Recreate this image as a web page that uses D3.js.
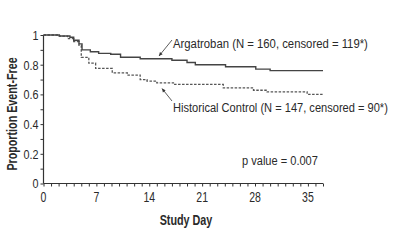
<!DOCTYPE html>
<html><head><meta charset="utf-8">
<script src="https://cdn.jsdelivr.net/npm/d3@7"></script>
<style>
html,body{margin:0;padding:0;background:#fff;}
svg text{font-family:"Liberation Sans",Arial,sans-serif;fill:#2a2a2a;}
</style></head>
<body><svg id="c" width="400" height="241"></svg>
<script>
const argDays = [0, 2.1, 3.5, 4.0, 4.7, 5.1, 6.2, 7.3, 8.9, 10.2, 12.8, 17.0, 19.0, 20.1, 24.1, 28.1, 30.0, 37];
const argVals = [1, 0.993, 0.985, 0.965, 0.94, 0.90, 0.887, 0.876, 0.87, 0.85, 0.84, 0.83, 0.815, 0.80, 0.786, 0.77, 0.76, 0.76];
const hisDays = [0, 2.1, 3.2, 4.0, 4.7, 5.0, 6.0, 6.9, 9.1, 11.1, 12.8, 13.7, 15.0, 17.2, 23.8, 27.8, 29.6, 34.9, 37];
const hisVals = [1, 0.993, 0.975, 0.955, 0.93, 0.85, 0.81, 0.775, 0.745, 0.73, 0.70, 0.69, 0.678, 0.667, 0.644, 0.628, 0.617, 0.60, 0.60];
const xTicks = [0, 7, 14, 21, 28, 35];
const yTicks = [0, 0.2, 0.4, 0.6, 0.8, 1];
const argLabel = "Argatroban (N = 160, censored = 119*)";
const hisLabel = "Historical Control (N = 147, censored = 90*)";
const pLabel = "p value = 0.007";
const xTitle = "Study Day";
const yTitle = "Proportion Event-Free";

const svg = d3.select("#c");
const x = d3.scaleLinear().domain([0, 37]).range([43.5, 323]);
const y = d3.scaleLinear().domain([0, 1]).range([183.5, 35]);
const ink = "#333";

const yAxis = svg.append("g").attr("transform", `translate(${x(0)},0)`)
  .call(d3.axisLeft(y).tickValues(d3.range(0, 1.0001, 0.1)).tickSize(3).tickFormat(""));
const xAxis = svg.append("g").attr("transform", `translate(0,${y(0)})`)
  .call(d3.axisBottom(x).tickValues(d3.range(0, 38, 1)).tickSize(3).tickFormat(""));
svg.selectAll(".domain").attr("stroke", ink).attr("stroke-width", 1.2);
svg.selectAll(".tick line").attr("stroke", ink);
yAxis.select(".domain").attr("d", `M0,${y(1)}V${y(0)}`);
xAxis.select(".domain").attr("d", `M${x(0)},0H${x(37)}`);

function cond(g, px, py, s, size, anchor, weight, rot) {
  return g.append("text")
    .attr("transform", `translate(${px},${py})` + (rot ? ` rotate(${rot})` : "") + ` scale(${s},1)`)
    .attr("text-anchor", anchor).attr("font-size", size).attr("font-weight", weight || "normal");
}
function fit(px, py, width, size, str) {
  const t = svg.append("text").attr("font-size", size).text(str);
  const w = t.node().getComputedTextLength();
  t.attr("transform", `translate(${px},${py}) scale(${width / w},1)`);
  return t;
}

const gy = svg.append("g");
yTicks.forEach(d => cond(gy, 38.5, y(d) + 4.8, 0.8, 13.5, "end")
  .text(d === 0 || d === 1 ? String(d) : d.toFixed(1)));
const gx = svg.append("g");
xTicks.forEach(d => cond(gx, x(d), 202, 0.75, 14, "middle").text(d));

cond(svg, 186, 224.5, 0.72, 15, "middle", "bold").text(xTitle);
cond(svg, 16.5, 114, 0.74, 14.5, "middle", "bold", -90).text(yTitle);

const line = d3.line().x(d => x(d[0])).y(d => y(d[1])).curve(d3.curveStepAfter);
svg.append("path").datum(hisDays.map((d, i) => [d, hisVals[i]]))
  .attr("d", line).attr("fill", "none").attr("stroke", "#555").attr("stroke-width", 1.3)
  .attr("stroke-dasharray", "2.5,1.5");
svg.append("path").datum(argDays.map((d, i) => [d, argVals[i]]))
  .attr("d", line).attr("fill", "none").attr("stroke", "#444").attr("stroke-width", 1.4);

fit(173, 48, 195, 13.5, argLabel);
fit(173, 112, 215, 13.5, hisLabel);
fit(242, 165, 76, 13.5, pLabel);

function arrow(x1, y1, x2, y2) {
  svg.append("line").attr("x1", x1).attr("y1", y1).attr("x2", x2).attr("y2", y2)
    .attr("stroke", ink).attr("stroke-width", 0.8);
  const a = Math.atan2(y2 - y1, x2 - x1), L = 4, w = 0.45;
  const p = [[x2, y2],
    [x2 - L * Math.cos(a - w), y2 - L * Math.sin(a - w)],
    [x2 - L * Math.cos(a + w), y2 - L * Math.sin(a + w)]];
  svg.append("path").attr("d", "M" + p.join("L") + "Z").attr("fill", ink);
}
arrow(172, 40, 159, 56);
arrow(172, 101, 162, 88.5);
</script></body></html>
